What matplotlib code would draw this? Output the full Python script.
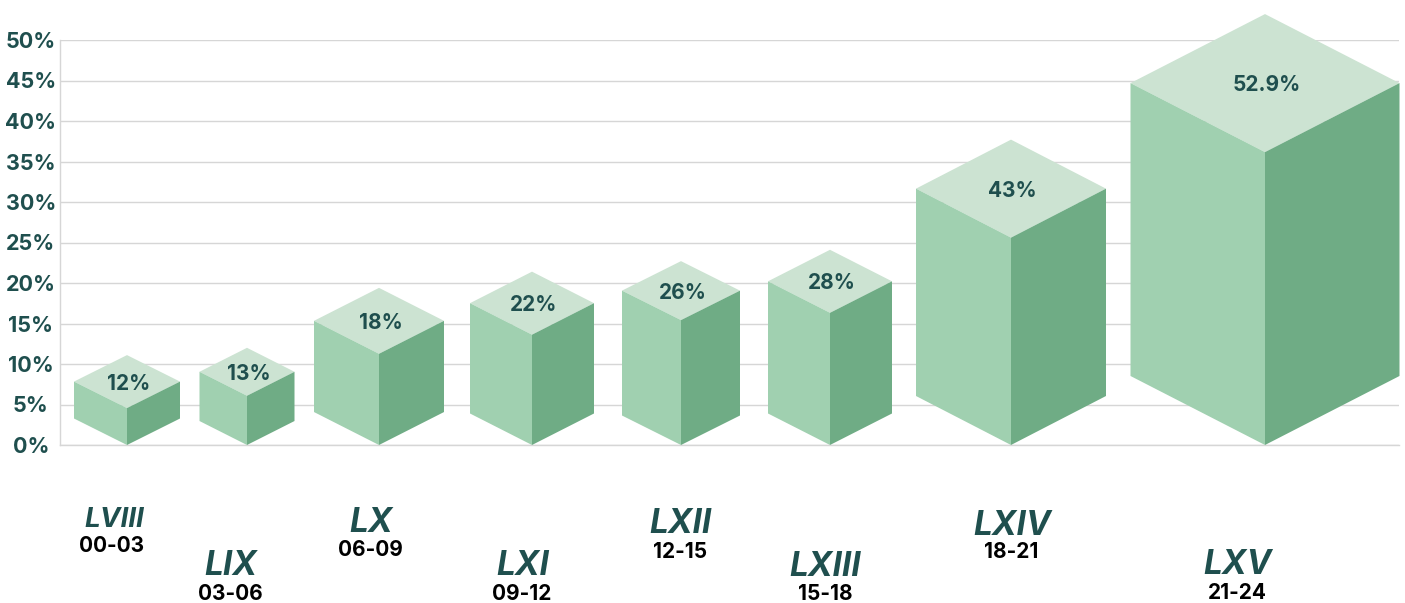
"""Isometric box chart: share per legislature, 2000-2024."""
import matplotlib.pyplot as plt
from matplotlib.patches import Polygon

# ---------------------------------------------------------------------------
# Data
# ---------------------------------------------------------------------------

LEGISLATURES = ["LVIII", "LIX", "LX", "LXI", "LXII", "LXIII", "LXIV", "LXV"]
PERIODS = ["00-03", "03-06", "06-09", "09-12", "12-15", "15-18", "18-21", "21-24"]
VALUE_LABELS = ["12%", "13%", "18%", "22%", "26%", "28%", "43%", "52.9%"]
# drawn height of the back corner of each box, in % on the axis
BOX_TOPS = [11.1, 12.0, 19.4, 21.4, 22.7, 24.1, 37.7, 53.2]
YTICKS = [0, 5, 10, 15, 20, 25, 30, 35, 40, 45, 50]

# ---------------------------------------------------------------------------
# Layout (pixels for x, axis % for depth)
# ---------------------------------------------------------------------------

W, H = 1405, 603
AX_L, AX_R, AX_T, AX_B = 60, 1399, 40, 445
BOX_X = [127, 247, 379, 532, 681, 830, 1011, 1265]
BOX_HALF_W = [53, 47.5, 65, 62, 59, 62, 95, 134.5]
BOX_DEPTH = [3.27, 2.96, 4.07, 3.89, 3.64, 3.89, 6.05, 8.52]

NAME_POS = [(114, 520), (231, 566), (371, 523), (523, 566),
            (680, 524), (825, 567), (1012, 526), (1237, 565)]
NAME_SIZE = [20, 24, 24, 24, 24, 24, 24, 24]
PERIOD_POS = [(112, 546), (230, 594), (370, 550), (522, 594),
              (680, 552), (825, 594), (1011, 552), (1237, 593)]

TOP_C = "#cce3d2"
LEFT_C = "#a0d0b0"
RIGHT_C = "#6fac85"
GRID_C = "#d6d6d6"
TEXT_C = "#1f4f4e"

plt.rcParams["font.family"] = ["Inter", "DejaVu Sans"]

fig = plt.figure(figsize=(W / 100, H / 100), dpi=100)
ax = fig.add_axes([AX_L / W, 1 - AX_B / H, (AX_R - AX_L) / W, (AX_B - AX_T) / H])
ax.set_xlim(AX_L, AX_R)
ax.set_ylim(0, 50)
ax.set_axisbelow(True)
ax.grid(axis="y", color=GRID_C, lw=1)
ax.set_xticks([])
ax.set_yticks(YTICKS)
ax.set_yticklabels([f"{v}%" for v in YTICKS], fontsize=15.5, fontweight="bold",
                   color=TEXT_C, ha="center")
ax.tick_params(axis="y", length=0, pad=21)
for side in ("top", "right"):
    ax.spines[side].set_visible(False)
for side in ("left", "bottom"):
    ax.spines[side].set_color(GRID_C)
    ax.spines[side].set_linewidth(1)

# ---------------------------------------------------------------------------
# Boxes
# ---------------------------------------------------------------------------

for x, hw, d, top, label in zip(BOX_X, BOX_HALF_W, BOX_DEPTH, BOX_TOPS, VALUE_LABELS):
    faces = [
        ([(x - hw, top - d), (x, top), (x + hw, top - d), (x, top - 2 * d)], TOP_C),
        ([(x - hw, top - d), (x, top - 2 * d), (x, 0), (x - hw, d)], LEFT_C),
        ([(x + hw, top - d), (x, top - 2 * d), (x, 0), (x + hw, d)], RIGHT_C),
    ]
    for pts, col in faces:
        ax.add_patch(Polygon(pts, closed=True, fc=col, ec="none", clip_on=False, zorder=3))
    ax.annotate(label, (x, top - d), xytext=(1, -1.5), textcoords="offset points",
                ha="center", va="center", fontsize=15, fontweight="bold",
                color=TEXT_C, zorder=4)

# ---------------------------------------------------------------------------
# Names under the boxes
# ---------------------------------------------------------------------------

for name, (nx, ny), size in zip(LEGISLATURES, NAME_POS, NAME_SIZE):
    fig.text(nx / W, 1 - ny / H, name, ha="center", va="center", fontsize=size,
             fontstyle="italic", fontweight="bold", color=TEXT_C)
for period, (px, py) in zip(PERIODS, PERIOD_POS):
    fig.text(px / W, 1 - py / H, period, ha="center", va="center", fontsize=15,
             fontweight="bold", color="black")

fig.savefig("out.png", dpi=100)
